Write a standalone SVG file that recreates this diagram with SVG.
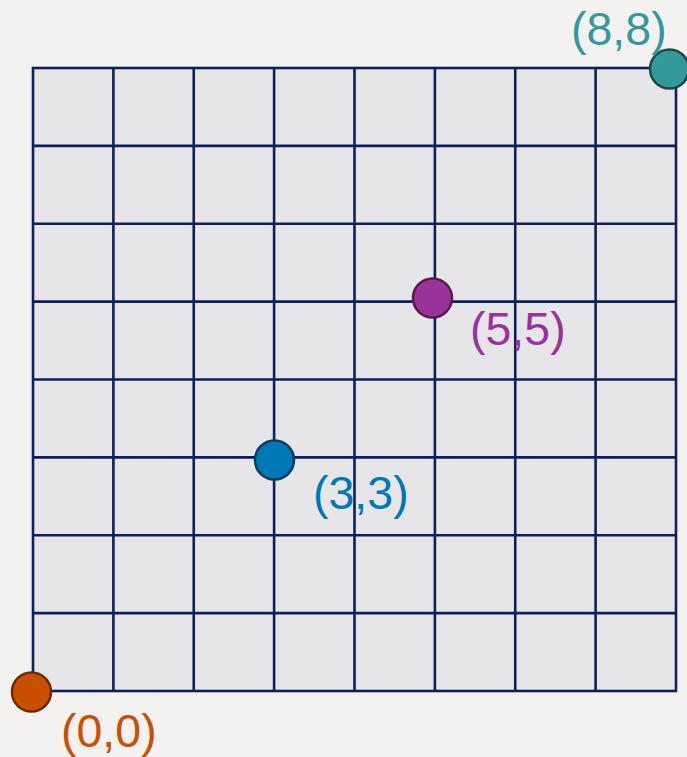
<svg xmlns="http://www.w3.org/2000/svg" width="687" height="757" viewBox="0 0 687 757">
<style>
.grid{stroke:#0d1f5c;stroke-width:2.6;fill:none}
.lbl{font-family:"Liberation Sans",Arial,sans-serif;font-size:46.5px}
.pt{stroke-width:2.5}
</style>
<rect width="687" height="757" fill="#f3f2f1"/>
<g id="grid">
<rect x="33" y="68" width="643" height="623" fill="#e6e6e9"/>
<rect x="33" y="68" width="643" height="623" class="grid"/>
<path class="grid" d="M113.4 68V691M193.75 68V691M274.1 68V691M354.5 68V691M434.9 68V691M515.25 68V691M595.6 68V691M33 145.9H676M33 223.75H676M33 301.6H676M33 379.5H676M33 457.4H676M33 535.25H676M33 613.1H676"/>
</g>
<g id="p00">
<circle class="pt" cx="31.5" cy="692" r="19.5" fill="#c85000" stroke="#6b2a00"/>
<text class="lbl" x="61" y="747" fill="#c85000">(0,0)</text>
</g>
<g id="p33">
<circle class="pt" cx="274.5" cy="460" r="19.5" fill="#0077b6" stroke="#0b3d5c"/>
<text class="lbl" x="313" y="509" fill="#0077b6">(3,3)</text>
</g>
<g id="p55">
<circle class="pt" cx="432.5" cy="298" r="19.5" fill="#993399" stroke="#5a1a4a"/>
<text class="lbl" x="470" y="345" fill="#993399">(5,5)</text>
</g>
<g id="p88">
<circle class="pt" cx="669.5" cy="69" r="19.5" fill="#339999" stroke="#1a4a48"/>
<text class="lbl" x="571" y="45" fill="#339999">(8,8)</text>
</g>
</svg>
